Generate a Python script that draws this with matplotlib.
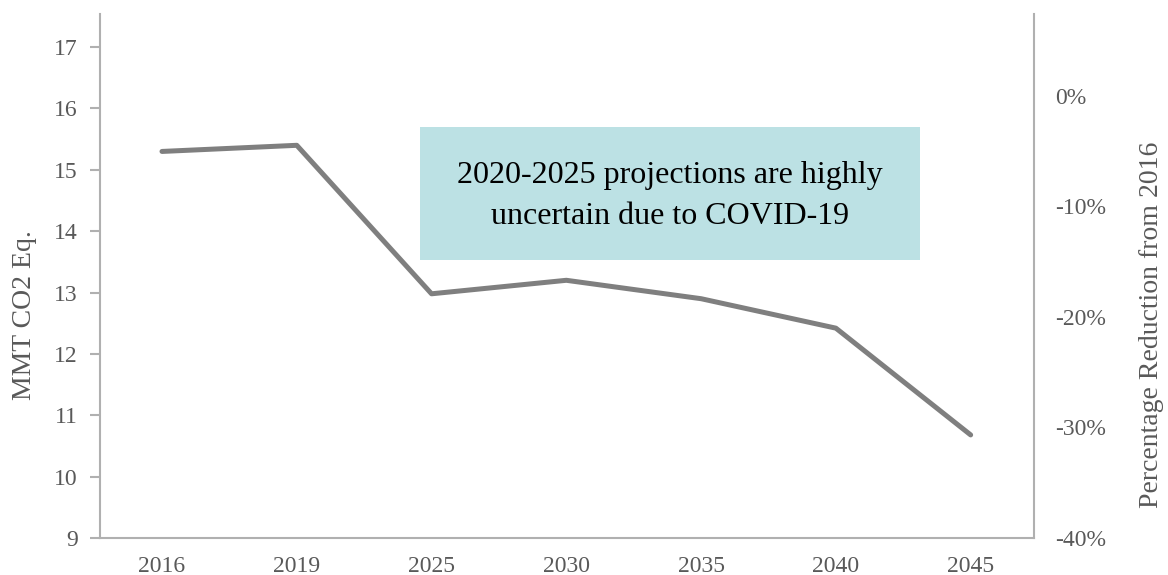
import matplotlib.pyplot as plt
from matplotlib.patches import Rectangle
from matplotlib.ticker import FuncFormatter

# data
years = ["2016", "2019", "2025", "2030", "2035", "2040", "2045"]
emissions = [15.30, 15.40, 12.98, 13.20, 12.90, 12.42, 10.68]
pct_ticks = [-0.4, -0.3, -0.2, -0.1, 0.0]

plt.rcParams["font.family"] = ["Liberation Serif", "DejaVu Serif"]
tick_col = "#595959"
spine_col = "#b0b0b0"

fig = plt.figure(figsize=(11.68, 5.75), dpi=100)
ax = fig.add_axes([100 / 1168, 1 - 538 / 575, 934 / 1168, 524 / 575])

x = list(range(len(years)))
ax.plot(x, emissions, color="#7f7f7f", lw=3.6, solid_capstyle="round", zorder=3)

ax.set_xlim(-0.46, 6.47)
ax.set_ylim(9, 17.54)
ax.set_yticks(range(9, 18))
ax.set_xticks(x)
ax.set_xticklabels(years)

ax.spines["top"].set_visible(False)
for s in ["left", "bottom", "right"]:
    ax.spines[s].set_color(spine_col)
    ax.spines[s].set_linewidth(1.5)

ax.tick_params(axis="y", colors=spine_col, labelcolor=tick_col, labelsize=17,
               length=7, width=1.5, pad=9)
ax.tick_params(axis="x", length=0, labelcolor=tick_col, labelsize=17, pad=13)

# secondary axis for % reduction
ax2 = ax.twinx()
ax2.set_ylim(-0.40, 0.074)
ax2.set_yticks(pct_ticks)
ax2.yaxis.set_major_formatter(FuncFormatter(lambda v, p: f"{v * 100:.0f}%"))
for s in ["top", "left", "bottom", "right"]:
    ax2.spines[s].set_visible(False)
ax2.tick_params(axis="y", length=0, labelcolor=tick_col, labelsize=17, pad=15)

# axis titles
fig.text(25 / 1168, 1 - 315 / 575, "MMT CO2 Eq.", rotation=90, fontsize=20,
         color=tick_col, ha="center", va="center")
fig.text(1152 / 1168, 1 - 325 / 575, "Percentage Reduction from 2016",
         rotation=90, fontsize=20, color=tick_col, ha="center", va="center")

# annotation box
x0, x1 = (420 - 100) / 934, (920 - 100) / 934
y0, y1 = (538 - 260) / 524, (538 - 127) / 524
ax.add_patch(Rectangle((x0, y0), x1 - x0, y1 - y0, transform=ax.transAxes,
                       facecolor="#bce1e4", edgecolor="none", zorder=4))
ax.text((x0 + x1) / 2, (y0 + y1) / 2 - 0.005,
        "2020-2025 projections are highly\nuncertain due to COVID-19",
        transform=ax.transAxes, ha="center", va="center", fontsize=23,
        color="black", linespacing=1.55, zorder=5)

fig.savefig("out.png", dpi=100)
